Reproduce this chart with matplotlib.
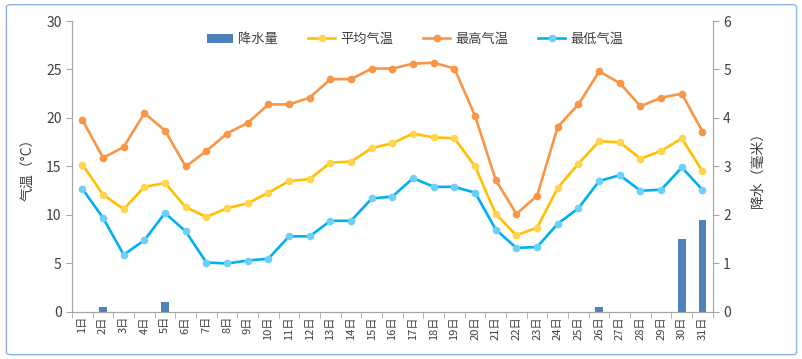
import numpy as np
import matplotlib.pyplot as plt
from matplotlib.patches import FancyBboxPatch

plt.rcParams['font.family'] = ['Noto Sans CJK SC', 'DejaVu Sans']

# Data
days = [f'{d}日' for d in range(1, 32)]
t_max = [19.8, 15.9, 17.0, 20.5, 18.7, 15.0, 16.6, 18.4, 19.5, 21.4,
         21.4, 22.1, 24.0, 24.0, 25.1, 25.1, 25.6, 25.7, 25.1, 20.2,
         13.6, 10.1, 12.0, 19.1, 21.4, 24.8, 23.6, 21.2, 22.1, 22.5, 18.6]
t_avg = [15.2, 12.1, 10.6, 12.9, 13.3, 10.8, 9.8, 10.7, 11.2, 12.3,
         13.5, 13.7, 15.4, 15.5, 16.9, 17.4, 18.4, 18.0, 17.9, 15.0,
         10.1, 7.9, 8.7, 12.8, 15.3, 17.6, 17.5, 15.8, 16.6, 17.9, 14.5]
t_min = [12.7, 9.7, 5.9, 7.4, 10.2, 8.3, 5.1, 5.0, 5.3, 5.5,
         7.8, 7.8, 9.4, 9.4, 11.7, 11.9, 13.8, 12.9, 12.9, 12.3,
         8.5, 6.6, 6.7, 9.1, 10.7, 13.5, 14.1, 12.5, 12.6, 14.9, 12.6]
precip = [0, 0.1, 0, 0, 0.2, 0, 0, 0, 0, 0,
          0, 0, 0, 0, 0, 0, 0, 0, 0, 0,
          0, 0, 0, 0, 0, 0.1, 0, 0, 0, 1.5, 1.9]

x = np.arange(len(days))
grey = '#a6a6a6'
txt = '#404040'

fig = plt.figure(figsize=(8.03, 3.59), dpi=100)
fig.patches.append(FancyBboxPatch((0.008, 0.012), 0.984, 0.975,
                                  boxstyle='round,pad=0,rounding_size=0.006',
                                  transform=fig.transFigure, fill=False,
                                  edgecolor='#8eb4e3', linewidth=1.0))

ax = fig.add_axes([0.0897, 0.131, 0.798, 0.8105])
ax2 = ax.twinx()
ax.set_zorder(ax2.get_zorder() + 1)
ax.patch.set_visible(False)

bars = ax2.bar(x, precip, width=0.38, color='#4f81bd', label='降水量')
l_avg, = ax.plot(x, t_avg, color='#ffc000', lw=1.9, marker='o', ms=4.5,
                 mfc='#ffd54f', mec='#ffd54f', label='平均气温')
l_max, = ax.plot(x, t_max, color='#f79646', lw=1.9, marker='o', ms=4.5,
                 mfc='#f79646', mec='#f79646', label='最高气温')
l_min, = ax.plot(x, t_min, color='#00b0f0', lw=1.9, marker='o', ms=4.5,
                 mfc='#6fd0f5', mec='#6fd0f5', label='最低气温')

ax.set_xlim(-0.5, len(days) - 0.5)
ax.set_ylim(0, 30)
ax.set_yticks(range(0, 31, 5))
ax2.set_ylim(0, 6)
ax2.set_yticks(range(0, 7))

ax.set_xticks(x)
ax.set_xticklabels(days, rotation=90, fontsize=8, color=txt)
ax.set_xticks(np.arange(-0.5, len(days)), minor=True)
ax.tick_params(axis='x', which='major', length=0, pad=3)
ax.tick_params(axis='x', which='minor', length=4, color=grey)
ax.tick_params(axis='y', length=4, color=grey, labelsize=10, labelcolor=txt)
ax2.tick_params(axis='y', length=4, color=grey, labelsize=10, labelcolor=txt)

for a in (ax, ax2):
    a.spines['top'].set_visible(False)
    for s in ('left', 'right', 'bottom'):
        a.spines[s].set_color(grey)
ax.spines['right'].set_visible(False)

ax.set_ylabel('气温（°C）', fontsize=10, color=txt, labelpad=8)
ax2.set_ylabel('降水（毫米）', fontsize=10, color=txt, labelpad=14)

ax.legend([bars, l_avg, l_max, l_min], ['降水量', '平均气温', '最高气温', '最低气温'],
          loc='upper center', bbox_to_anchor=(0.535, 1.0), ncol=4, frameon=False,
          fontsize=9.5, handlelength=2.0, handletextpad=0.4, columnspacing=2.3,
          labelcolor=txt)

fig.savefig('out.png', dpi=100)
